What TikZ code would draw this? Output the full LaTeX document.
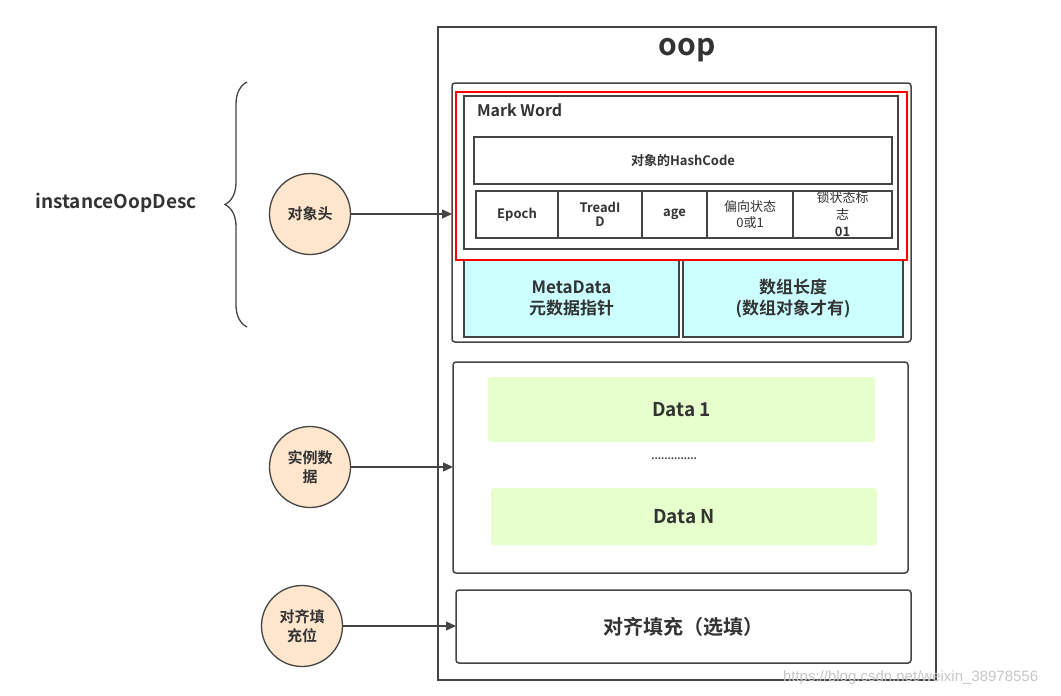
\documentclass[tikz,border=0pt]{standalone}
\usepackage{fontspec}
\setmainfont{Noto Sans CJK SC}[BoldFont={Noto Sans CJK SC Bold}]
\newfontfamily\markfont{Liberation Sans}
\usetikzlibrary{positioning,arrows.meta,decorations.pathreplacing}
\definecolor{linegray}{HTML}{444444}
\definecolor{textgray}{HTML}{333333}
\definecolor{peach}{HTML}{FFE6CC}
\definecolor{metacyan}{HTML}{CCFFFF}
\definecolor{datagreen}{HTML}{E6FFCC}
\begin{document}
\begin{tikzpicture}
		[x=1pt,y=-1pt,
		every node/.style={text=textgray,inner sep=0pt,outer sep=0pt,align=center},
		box/.style={draw=linegray,line width=1.5pt,rounded corners=3pt},
		cell/.style={draw=linegray,line width=1.5pt,minimum height=47pt,font=\fontsize{13}{14}\selectfont\bfseries},
		part/.style={circle,draw=linegray,line width=1.3pt,fill=peach,minimum size=81pt,font=\fontsize{15}{19}\selectfont\bfseries},
		datafill/.style={fill=datagreen,rounded corners=3pt,font=\fontsize{19}{21}\selectfont\bfseries},
		link/.style={draw=linegray,line width=1.3pt,-{Triangle[length=10pt,width=9pt]}}]
		\useasboundingbox (0,0) rectangle (1061,696);
		% the oop box
		\node[draw=linegray,line width=1.5pt,minimum width=498pt,minimum height=653pt] (oop) at (687,353.5) {};
		\node[font=\fontsize{30}{32}\selectfont\bfseries] (title) at (687,50) {oop};
		% object header
		\node[box,minimum width=459pt,minimum height=259pt] (head) at (681.5,212.5) {};
		\node[draw=linegray,line width=1.5pt,minimum width=434pt,minimum height=153pt] (mark) at (681,172.5) {};
		\node[anchor=west,font=\fontsize{16}{18}\selectfont\bfseries] (marklabel) at (477,110) {Mark Word};
		\node[draw=linegray,line width=1.5pt,minimum width=418pt,minimum height=47pt,font=\fontsize{13}{14}\selectfont\bfseries] (hash) at (683,160.5) {对象的HashCode};
		\node[cell,minimum width=82pt] (epoch) at (517,214.5) {Epoch};
		\node[cell,minimum width=84pt,right=0pt of epoch] (thread) {TreadI\\D};
		\node[cell,minimum width=65pt,right=0pt of thread] (age) {age};
		\node[cell,minimum width=86pt,right=0pt of age,font=\fontsize{13}{16}\selectfont] (biased) {偏向状态\\0或1};
		\node[cell,minimum width=99pt,right=0pt of biased,font=\fontsize{13}{17}\selectfont] (lock) {锁状态标\\志\\\textbf{01}};
		\node[draw=linegray,line width=1.5pt,fill=metacyan,minimum width=215pt,minimum height=77pt,font=\fontsize{17}{21}\selectfont\bfseries] (meta) at (571.5,298.5) {MetaData\\元数据指针};
		\node[draw=linegray,line width=1.5pt,fill=metacyan,minimum width=220pt,minimum height=77pt,font=\fontsize{17}{21}\selectfont\bfseries] (length) at (793,298.5) {数组长度\\(数组对象才有)};
		\node[draw=red,line width=2.5pt,minimum width=451pt,minimum height=168pt] (focus) at (681.5,176) {};
		% instance data
		\node[box,minimum width=455pt,minimum height=211pt] (data) at (680.5,467.5) {};
		\node[datafill,minimum width=387pt,minimum height=65pt] (first) at (681.5,409.5) {Data 1};
		\node[font=\fontsize{10}{10}\selectfont] (dots) at (674,459) {\textbf{..............}};
		\node[datafill,minimum width=386pt,minimum height=57pt] (last) at (684,516.5) {Data N};
		% padding
		\node[box,minimum width=455pt,minimum height=73pt,font=\fontsize{20}{22}\selectfont\bfseries] (pad) at (683.5,626.5) {对齐填充（选填）};
		% parts
		\node[part] (header) at (310,214) {对象头};
		\node[part] (inst) at (310,467) {实例数\\据};
		\node[part] (align) at (302,626) {对齐填\\充位};
		\draw[link] (header) -- (header -| head.west);
		\draw[link] (inst) -- (inst -| data.west);
		\draw[link] (align) -- (align -| pad.west);
		% brace
		\coordinate (bracetop) at (247,82);
		\coordinate (bracebottom) at (247,327);
		\draw[linegray,line width=1.3pt,decorate,decoration={brace,amplitude=22pt}] (bracebottom) -- (bracetop);
		\node[font=\fontsize{19}{21}\selectfont\bfseries] (desc) at (116,203) {instanceOopDesc};
		\node[anchor=west,text=gray!45,font=\markfont\fontsize{15}{16}\selectfont] (mark url) at (783,678) {https://blog.csdn.net/weixin\_38978556};
	\end{tikzpicture}
\end{document}
